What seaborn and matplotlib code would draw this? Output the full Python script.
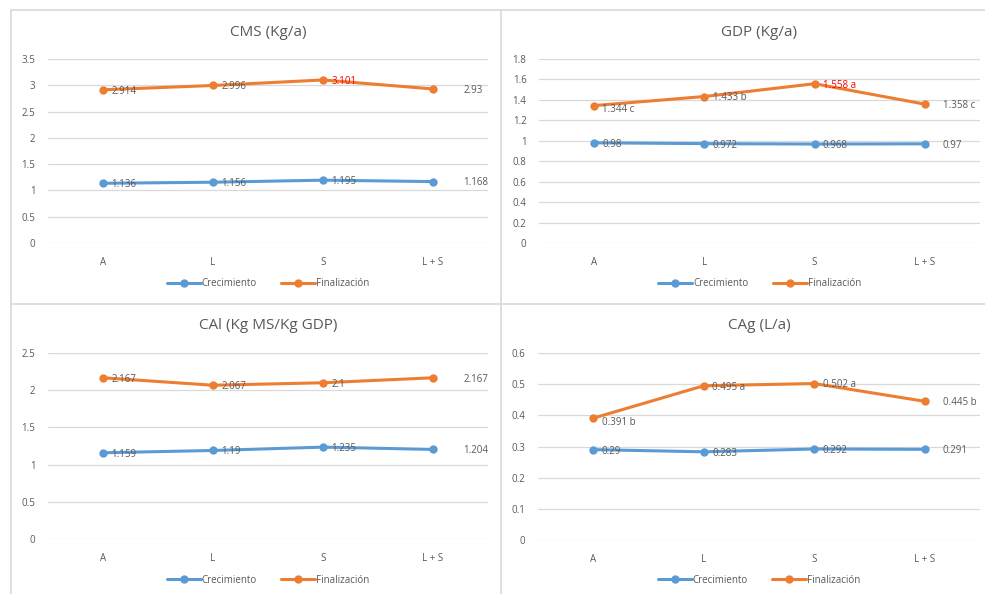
import matplotlib.pyplot as plt
import seaborn as sns
import pandas as pd
from matplotlib.lines import Line2D

categorias = ["A", "L", "S", "L + S"]
series = ["Crecimiento", "Finalización"]

titulos = ["CMS (Kg/a)", "GDP (Kg/a)", "CAl (Kg MS/Kg GDP)", "CAg (L/a)"]

cms_crec = [1.136, 1.156, 1.195, 1.168]
cms_fin = [2.914, 2.996, 3.101, 2.93]
gdp_crec = [0.98, 0.972, 0.968, 0.97]
gdp_fin = [1.344, 1.433, 1.558, 1.358]
cal_crec = [1.159, 1.19, 1.235, 1.204]
cal_fin = [2.167, 2.067, 2.1, 2.167]
cag_crec = [0.29, 0.283, 0.292, 0.291]
cag_fin = [0.391, 0.495, 0.502, 0.445]

# letras de significancia (solo en algunos gráficos)
gdp_letras = ["c", "b", "a", "c"]
cag_letras = ["b", "a", "a", "b"]

y_ticks = [
    [0, 0.5, 1, 1.5, 2, 2.5, 3, 3.5],
    [0, 0.2, 0.4, 0.6, 0.8, 1, 1.2, 1.4, 1.6, 1.8],
    [0, 0.5, 1, 1.5, 2, 2.5],
    [0, 0.1, 0.2, 0.3, 0.4, 0.5, 0.6],
]

azul = "#5B9BD5"
naranja = "#ED7D31"
gris_texto = "#595959"

sns.set_theme(style="white")
plt.rcParams["font.family"] = ["Open Sans", "DejaVu Sans"]

fig = plt.figure(figsize=(9.85, 5.94), dpi=100)

posiciones = [
    [0.0487, 0.5909, 0.4467, 0.3098],
    [0.5472, 0.5909, 0.4477, 0.3098],
    [0.0487, 0.0926, 0.4467, 0.3131],
    [0.5462, 0.0909, 0.4487, 0.3148],
]
legend_y = [0.522, 0.522, 0.023, 0.023]
titulo_y = [0.946, 0.946, 0.452, 0.452]
# separación de la última etiqueta (L + S)
off_final = [22, 13, 22, 13]

datos = [
    (cms_crec, cms_fin, None, 2),
    (gdp_crec, gdp_fin, gdp_letras, 2),
    (cal_crec, cal_fin, None, None),
    (cag_crec, cag_fin, cag_letras, None),
]

for i, (crec, fin, letras, rojo) in enumerate(datos):
    ax = fig.add_axes(posiciones[i])
    df = pd.DataFrame({
        "x": list(range(4)) * 2,
        "valor": crec + fin,
        "serie": [series[0]] * 4 + [series[1]] * 4,
    })
    sns.lineplot(data=df, x="x", y="valor", hue="serie", palette=[azul, naranja],
                 marker="o", markersize=6, markeredgewidth=0, linewidth=2.2,
                 ax=ax, legend=False)

    for j in range(4):
        off = off_final[i] if j == 3 else 6
        ax.annotate(f"{crec[j]:g}", (j, crec[j]), xytext=(off, -1), textcoords="offset points",
                    ha="left", va="center", fontsize=7, color=gris_texto)
        etiqueta = f"{fin[j]:g}"
        if letras is not None:
            etiqueta += " " + letras[j]
        color = "red" if (rojo is not None and j == rojo) else gris_texto
        dy = -3 if (fin[j] <= min(fin) + 0.01 and letras is not None) else -1
        ax.annotate(etiqueta, (j, fin[j]), xytext=(off, dy), textcoords="offset points",
                    ha="left", va="center", fontsize=7, color=color)

    ax.set_xlim(-0.5, 3.5)
    ax.set_ylim(0, max(y_ticks[i]))
    ax.set_yticks(y_ticks[i])
    ax.set_yticklabels([f"{t:g}" for t in y_ticks[i]])
    ax.set_xticks(range(4))
    ax.set_xticklabels(categorias)
    ax.set_xlabel("")
    ax.set_ylabel("")
    ax.grid(axis="y", color="#D9D9D9", linewidth=0.9)
    ax.set_axisbelow(True)
    for s in ax.spines.values():
        s.set_visible(False)
    ax.tick_params(axis="both", labelsize=7, colors=gris_texto, length=0, pad=10)
    ax.tick_params(axis="y", pad=9)

    cx = posiciones[i][0] + posiciones[i][2] / 2
    fig.text(cx, titulo_y[i], titulos[i], ha="center", va="center", fontsize=11, color=gris_texto)

    handles = [Line2D([], [], color=azul, marker="o", markersize=5, linewidth=2.2),
               Line2D([], [], color=naranja, marker="o", markersize=5, linewidth=2.2)]
    fig.legend(handles, series, loc="center", bbox_to_anchor=(cx, legend_y[i]), ncol=2,
               frameon=False, fontsize=7, labelcolor=gris_texto, handlelength=3.5,
               handletextpad=0.1, columnspacing=2.5)

# bordes de los paneles
borde = "#D9D9D9"
fig.add_artist(Line2D([11 / 985, 11 / 985], [0, 1 - 10 / 594], color=borde, lw=1.2))
fig.add_artist(Line2D([11 / 985, 1], [1 - 10 / 594, 1 - 10 / 594], color=borde, lw=1.2))
fig.add_artist(Line2D([501.5 / 985, 501.5 / 985], [0, 1 - 10 / 594], color=borde, lw=1.2))
fig.add_artist(Line2D([11 / 985, 1], [1 - 304 / 594, 1 - 304 / 594], color=borde, lw=1.2))

plt.savefig("out.png", dpi=100)
